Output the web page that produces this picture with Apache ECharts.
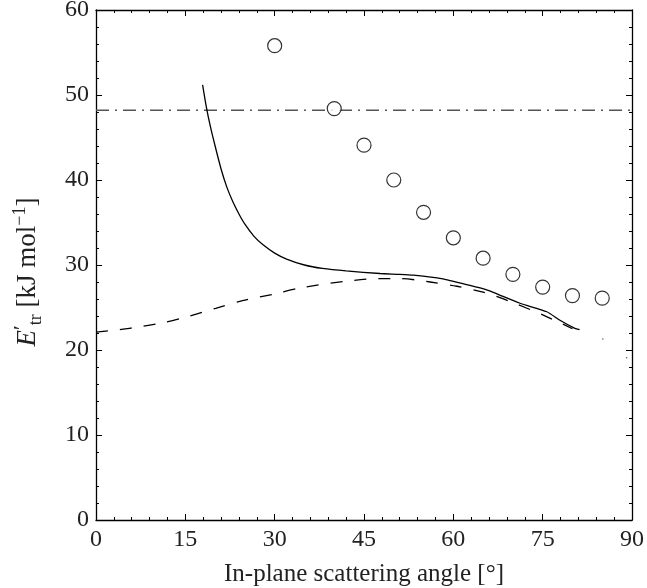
<!DOCTYPE html>
<html>
<head>
<meta charset="utf-8">
<script src="https://cdn.jsdelivr.net/npm/echarts@6/dist/echarts.min.js"></script>
<style>html,body{margin:0;padding:0;background:#fff;}#c{width:647px;height:588px;}</style>
</head>
<body>
<div id="c"></div>
<script>
// Experimental points (circles)
var expX = [30, 40, 45, 50, 55, 60, 65, 70, 75, 80, 85];
var expY = [55.8, 48.4, 44.1, 40.0, 36.2, 33.2, 30.8, 28.9, 27.4, 26.4, 26.1];

// Solid curve
var solidX = [17.9, 18.5, 19.2, 20.0, 21.0, 22.0, 23.0, 24.0, 25.0, 26.5, 28.0, 30.0, 32.0, 35.0, 38.0, 42.0, 47.7, 51.0, 53.3, 58.0, 62.8, 65.5, 67.3, 71.2, 75.7, 77.9, 80.4, 81.2];
var solidY = [51.2, 48.7, 46.3, 44.0, 41.3, 39.1, 37.4, 36.0, 34.8, 33.4, 32.4, 31.4, 30.7, 30.0, 29.6, 29.3, 29.0, 28.9, 28.8, 28.4, 27.6, 27.1, 26.6, 25.5, 24.5, 23.5, 22.55, 22.4];

// Dashed curve
var dashX = [0, 5.6, 11.2, 15.7, 20.1, 24.6, 30.0, 34.3, 42.1, 47.7, 51.0, 56.1, 60.6, 65.0, 69.2, 75.1, 80.0];
var dashY = [22.1, 22.55, 23.2, 24.0, 24.9, 25.8, 26.6, 27.3, 28.1, 28.4, 28.4, 28.0, 27.5, 26.8, 25.8, 24.1, 22.5];
var dashTailX = [85.1, 89.1];
var dashTailY = [21.3, 19.1];

// Horizontal dash-dot reference level
var refLevel = 48.2;
var refX = [0, 90];

// Axis ticks
var xTicks = [0, 15, 30, 45, 60, 75, 90];
var yTicks = [0, 10, 20, 30, 40, 50, 60];

function zip(a, b) { return a.map(function (v, i) { return [v, b[i]]; }); }

var FONT = 'Liberation Serif';
var TXT = '#222';
var chart = echarts.init(document.getElementById('c'));

function axisCommon(showLabel) {
  return {
    axisLine: { show: true, onZero: false, lineStyle: { color: '#000', width: 1.3 } },
    axisTick: { show: true, inside: true, length: 6, lineStyle: { color: '#000', width: 1 } },
    minorTick: { show: true, splitNumber: 5, length: 3, lineStyle: { color: '#000', width: 1 } },
    splitLine: { show: false },
    axisLabel: { show: showLabel, color: TXT, fontFamily: FONT, fontSize: 24 }
  };
}

var xb = axisCommon(true);
xb.type = 'value'; xb.min = 0; xb.max = 90; xb.interval = 15; xb.position = 'bottom';
xb.axisLabel.margin = 8;
xb.name = 'In-plane scattering angle [°]';
xb.nameLocation = 'middle'; xb.nameGap = 42;
xb.nameTextStyle = { color: TXT, fontFamily: FONT, fontSize: 25 };

var xt = axisCommon(false);
xt.type = 'value'; xt.min = 0; xt.max = 90; xt.interval = 15; xt.position = 'top';

var yl = axisCommon(true);
yl.type = 'value'; yl.min = 0; yl.max = 60; yl.interval = 10; yl.position = 'left';
yl.axisLabel.margin = 7;
yl.name = '{e|E}{p|′}{s|tr}{t| [kJ mol}{u|−1}{t|]}';
yl.nameLocation = 'middle'; yl.nameGap = 51; yl.nameRotate = 90;
yl.nameTextStyle = {
  color: TXT, fontFamily: FONT, fontSize: 27, lineHeight: 34, padding: [0, 14, 0, 0],
  rich: {
    e: { fontFamily: FONT, fontSize: 27, fontStyle: 'italic', color: TXT, lineHeight: 34 },
    p: { fontFamily: FONT, fontSize: 22, color: TXT, verticalAlign: 'top', lineHeight: 30 },
    s: { fontFamily: FONT, fontSize: 18, color: TXT, verticalAlign: 'bottom', lineHeight: 28 },
    t: { fontFamily: FONT, fontSize: 27, color: TXT, lineHeight: 34 },
    u: { fontFamily: FONT, fontSize: 18, color: TXT, verticalAlign: 'top', lineHeight: 28 }
  }
};

var yr = axisCommon(false);
yr.type = 'value'; yr.min = 0; yr.max = 60; yr.interval = 10; yr.position = 'right';

chart.setOption({
  backgroundColor: '#fff',
  animation: false,
  grid: { left: 96, right: 15, top: 10, bottom: 68, containLabel: false, outerBoundsMode: 'none' },
  xAxis: [xb, xt],
  yAxis: [yl, yr],
  series: [
    {
      type: 'line', data: refX.map(function (x) { return [x, refLevel]; }),
      showSymbol: false, symbol: 'none', z: 1,
      lineStyle: { color: '#555', width: 1.4, type: [13, 6, 2, 6] }
    },
    {
      type: 'line', data: zip(solidX, solidY), showSymbol: false, symbol: 'none', smooth: 0.2, z: 3,
      lineStyle: { color: '#000', width: 1.3, type: 'solid' }
    },
    {
      type: 'line', data: zip(dashX, dashY), showSymbol: false, symbol: 'none', smooth: 0.3, z: 2,
      lineStyle: { color: '#000', width: 1.3, type: [12, 12] }
    },
    {
      type: 'scatter', data: zip(dashTailX, dashTailY), symbol: 'circle', symbolSize: 1.5, z: 2,
      itemStyle: { color: '#333' }
    },
    {
      type: 'scatter', data: zip(expX, expY), symbol: 'circle', symbolSize: 14, z: 4,
      itemStyle: { color: '#fff', borderColor: '#000', borderWidth: 1.2 }
    }
  ]
});
</script>
</body>
</html>
